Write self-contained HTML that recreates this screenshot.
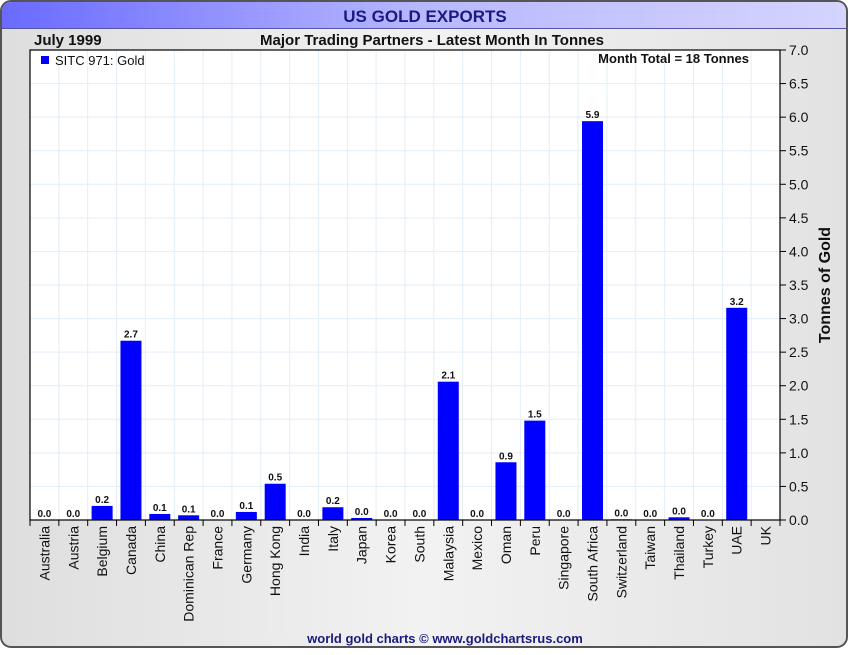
<!DOCTYPE html>
<html><head><meta charset="utf-8"><style>
body{margin:0;width:850px;height:650px;overflow:hidden;background:#fff;font-family:"Liberation Sans",sans-serif;}
</style></head><body>
<svg width="850" height="650" xmlns="http://www.w3.org/2000/svg">
<defs>
<linearGradient id="bg" x1="0" x2="1"><stop offset="0" stop-color="#dedede"/><stop offset="0.5" stop-color="#f2f2f2"/><stop offset="1" stop-color="#e2e2e2"/></linearGradient>
<linearGradient id="tb" x1="0" x2="1"><stop offset="0" stop-color="#6a6aff"/><stop offset="0.5" stop-color="#b8b8ff"/><stop offset="1" stop-color="#d4d4ff"/></linearGradient>
</defs>
<rect x="1" y="1" width="846" height="646" rx="10" fill="url(#bg)" stroke="#555" stroke-width="2"/>
<path d="M2,28 L2,12 Q2,2 12,2 L836,2 Q846,2 846,12 L846,28 Z" fill="url(#tb)"/>
<line x1="2" y1="28.5" x2="846" y2="28.5" stroke="#5555aa" stroke-width="1"/>
<text x="425" y="22" text-anchor="middle" font-size="17" font-weight="bold" fill="#1a1a80">US GOLD EXPORTS</text>
<text x="34" y="45" font-size="15" font-weight="bold" fill="#111">July 1999</text>
<text x="432" y="45" text-anchor="middle" font-size="15" font-weight="bold" fill="#111">Major Trading Partners - Latest Month In Tonnes</text>
<rect x="30" y="50" width="750" height="470" fill="#fff"/>
<g id="grid"></g>
<g id="bars"></g>
<rect x="30" y="50" width="750" height="470" fill="none" stroke="#000" stroke-width="1.2"/>
<rect x="41" y="56" width="8" height="8" fill="#0000ff"/>
<text x="55" y="65" font-size="13" fill="#111">SITC 971: Gold</text>
<text x="749" y="63" text-anchor="end" font-size="13" font-weight="bold" fill="#111">Month Total = 18 Tonnes</text>
<g id="yaxis"></g>
<g id="xaxis"></g>
<text transform="translate(830,285) rotate(-90)" text-anchor="middle" font-size="16" font-weight="bold" fill="#111">Tonnes of Gold</text>
<text x="445" y="643" text-anchor="middle" font-size="13" font-weight="bold" fill="#1a1a80">world gold charts © www.goldchartsrus.com</text>
</svg>
<script>
const categories=["Australia","Austria","Belgium","Canada","China","Dominican Rep","France","Germany","Hong Kong","India","Italy","Japan","Korea","South","Malaysia","Mexico","Oman","Peru","Singapore","South Africa","Switzerland","Taiwan","Thailand","Turkey","UAE","UK"];
const values=[0,0,0.21,2.67,0.09,0.07,0,0.12,0.54,0,0.19,0.03,0,0,2.06,0,0.86,1.48,0,5.94,0.01,0,0.04,0,3.16,null];
const yTicks=[0,0.5,1,1.5,2,2.5,3,3.5,4,4.5,5,5.5,6,6.5,7];
const NS="http://www.w3.org/2000/svg";
const L=30,R=780,T=50,B=520,YMAX=7;
const bw=(R-L)/categories.length;
const y=v=>B-(v/YMAX)*(B-T);
const xc=i=>L+bw*(i+0.5);
function mk(tag,attrs,parent){const e=document.createElementNS(NS,tag);for(const k in attrs)e.setAttribute(k,attrs[k]);parent.appendChild(e);return e;}
const grid=document.getElementById('grid'),bars=document.getElementById('bars'),ya=document.getElementById('yaxis'),xa=document.getElementById('xaxis');
yTicks.forEach(t=>{
  const g=mk('line',{x1:L,x2:R,y1:y(t),y2:y(t),stroke:'#e3eef7','stroke-width':1},grid);
  
  
  mk('line',{x1:R,x2:R+6,y1:y(t),y2:y(t),stroke:'#000'},ya);
  const tx=mk('text',{x:R+9,y:y(t)+5,'font-size':14,fill:'#111'},ya);
  tx.textContent=t.toFixed(1);
  
  
});
categories.forEach((c,i)=>{
  const gx=L+bw*(i+1);
  const g=mk('line',{x1:gx,x2:gx,y1:T,y2:B,stroke:'#e3eef7'},grid);
  
  
  mk('line',{x1:L+bw*i,x2:L+bw*i,y1:B,y2:B+6,stroke:'#000'},xa);
  const v=values[i];
  if(v!==null){
    const h=B-y(v);
    const r=mk('rect',{x:xc(i)-10.5,y:y(v),width:21,height:Math.max(h,0),fill:'#0000ff'},bars);
    
    
    const lb=mk('text',{x:xc(i),y:y(v)-3,'text-anchor':'middle','font-size':10,'font-weight':'bold',fill:'#111'},bars);
    lb.textContent=v.toFixed(1);
    
    
  }
  const t=mk('text',{transform:`translate(${xc(i)+5},${B+6}) rotate(-90)`,'text-anchor':'end','font-size':14,fill:'#111'},xa);
  t.textContent=c;
  
  
});
mk('line',{x1:R,x2:R,y1:B,y2:B+6,stroke:'#000'},xa);
</script>
</body></html>
